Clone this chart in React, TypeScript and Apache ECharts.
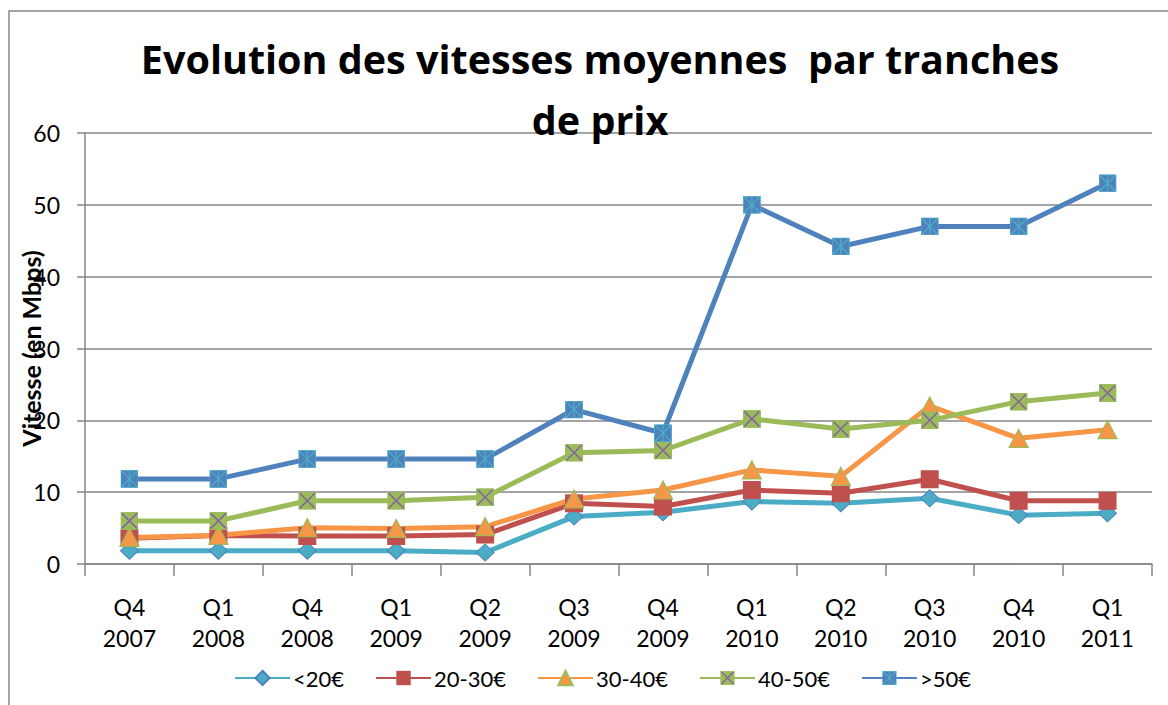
import React, { useEffect, useRef } from "react";
import * as echarts from "echarts";

const categories = ["Q4\n2007", "Q1\n2008", "Q4\n2008", "Q1\n2009", "Q2\n2009", "Q3\n2009", "Q4\n2009", "Q1\n2010", "Q2\n2010", "Q3\n2010", "Q4\n2010", "Q1\n2011"];
const seriesNames = ["<20€", "20-30€", "30-40€", "40-50€", ">50€"];
const lt20 = [1.85, 1.85, 1.85, 1.85, 1.6, 6.6, 7.2, 8.7, 8.45, 9.15, 6.8, 7.05];
const r2030 = [3.6, 3.95, 3.9, 3.9, 4.1, 8.45, 8.0, 10.3, 9.85, 11.8, 8.8, 8.8];
const r3040 = [3.7, 4.0, 5.05, 4.95, 5.2, 9.05, 10.3, 13.1, 12.2, 22.0, 17.5, 18.7];
const r4050 = [6.0, 6.0, 8.8, 8.8, 9.3, 15.5, 15.8, 20.2, 18.8, 20.0, 22.6, 23.8];
const gt50 = [11.85, 11.85, 14.6, 14.6, 14.6, 21.5, 18.2, 50.0, 44.2, 47.0, 47.0, 53.0];
const yTicks = { min: 0, max: 60, interval: 10 };

const FONT = "Lato, 'Open Sans', sans-serif";
const TITLE_FONT = "'Open Sans', Lato, sans-serif";

const svgUri = (s: string) => "image://data:image/svg+xml;charset=utf-8," + encodeURIComponent(s);
const blueMarker = svgUri(
  "<svg xmlns='http://www.w3.org/2000/svg' width='18' height='18' viewBox='0 0 18 18'><rect x='0.5' y='0.5' width='17' height='17' fill='#4F81BD' stroke='#4BACC6' stroke-width='1'/><path d='M1 1L17 17M17 1L1 17M9 0.5V17.5' stroke='#4BACC6' stroke-width='1.4' fill='none'/></svg>"
);
const greenMarker = svgUri(
  "<svg xmlns='http://www.w3.org/2000/svg' width='18' height='18' viewBox='0 0 18 18'><rect x='0.5' y='0.5' width='17' height='17' fill='#9BBB59' stroke='#9BBB59' stroke-width='1'/><path d='M1.5 1.5L16.5 16.5M16.5 1.5L1.5 16.5' stroke='#8064A2' stroke-width='1.5' fill='none'/></svg>"
);

export default function App() {
  const ref = useRef<HTMLDivElement>(null);
  useEffect(() => {
    document.body.style.margin = "0";
    const chart = echarts.init(ref.current!, null, { renderer: "svg" });
    const mk = (name: string, data: number[], color: string, extra: any) => ({
      name,
      type: "line",
      data,
      lineStyle: { color, width: 5 },
      itemStyle: { color },
      emphasis: { disabled: true },
      ...extra,
    });
    chart.setOption({
      animation: false,
      backgroundColor: "#ffffff",
      title: {
        text: "Evolution des vitesses moyennes  par tranches\nde prix",
        left: 595,
        top: 23,
        textAlign: "center",
        textStyle: { fontFamily: TITLE_FONT, fontWeight: "bold", fontSize: 39.5, lineHeight: 61, color: "#000" },
      },
      graphic: [
        {
          type: "polyline",
          shape: { points: [[9, 705], [9, 11], [1168, 11]] },
          style: { stroke: "#878787", lineWidth: 1.5, fill: "none" },
          silent: true,
        },
      ],
      legend: {
        data: seriesNames,
        left: 229,
        top: 662,
        itemWidth: 55,
        itemHeight: 18,
        itemGap: 31,
        textStyle: { fontFamily: FONT, fontSize: 22, color: "#000", padding: [0, 0, 0, -2] },
      },
      grid: { left: 85, right: 16, top: 133, bottom: 141, containLabel: false, outerBoundsMode: "none" },
      xAxis: {
        type: "category",
        data: categories,
        boundaryGap: true,
        axisLine: { show: true, lineStyle: { color: "#868686", width: 1.5 } },
        axisTick: { show: true, length: 12, lineStyle: { color: "#868686", width: 1.5 } },
        axisLabel: { fontFamily: FONT, fontSize: 23, color: "#000", lineHeight: 31, margin: 27, interval: 0 },
        splitLine: { show: false },
      },
      yAxis: {
        type: "value",
        min: yTicks.min,
        max: yTicks.max,
        interval: yTicks.interval,
        name: "Vitesse (en Mbps)",
        nameLocation: "middle",
        nameRotate: 90,
        nameGap: 42,
        nameMoveOverlap: false,
        nameTextStyle: { fontFamily: FONT, fontWeight: "bold", fontSize: 25, color: "#000" },
        axisLine: { show: true, lineStyle: { color: "#868686", width: 1.5 } },
        axisTick: { show: true, length: 8, lineStyle: { color: "#868686", width: 1.5 } },
        axisLabel: { fontFamily: FONT, fontSize: 23, color: "#000", margin: 25 },
        splitLine: { show: true, lineStyle: { color: "#868686", width: 1.5 } },
      },
      series: [
        mk(seriesNames[0], lt20, "#4BACC6", {
          symbol: "diamond",
          symbolSize: [18, 17],
          itemStyle: { color: "#4BACC6", borderColor: "#4F81BD", borderWidth: 1 },
        }),
        mk(seriesNames[1], r2030, "#C0504D", {
          symbol: "rect",
          symbolSize: 18,
          itemStyle: { color: "#C0504D", borderColor: "#C0504D", borderWidth: 0 },
        }),
        mk(seriesNames[2], r3040, "#F79646", {
          symbol: "triangle",
          symbolSize: [19, 18],
          itemStyle: { color: "#F79646", borderColor: "#9BBB59", borderWidth: 1.2 },
        }),
        mk(seriesNames[3], r4050, "#9BBB59", {
          symbol: greenMarker,
          symbolSize: 18,
          itemStyle: { color: "#9BBB59" },
        }),
        mk(seriesNames[4], gt50, "#4F81BD", {
          symbol: blueMarker,
          symbolSize: 18,
          itemStyle: { color: "#4F81BD" },
        }),
      ],
    });
    return () => chart.dispose();
  }, []);
  return <div ref={ref} style={{ width: 1168, height: 705 }} />;
}
